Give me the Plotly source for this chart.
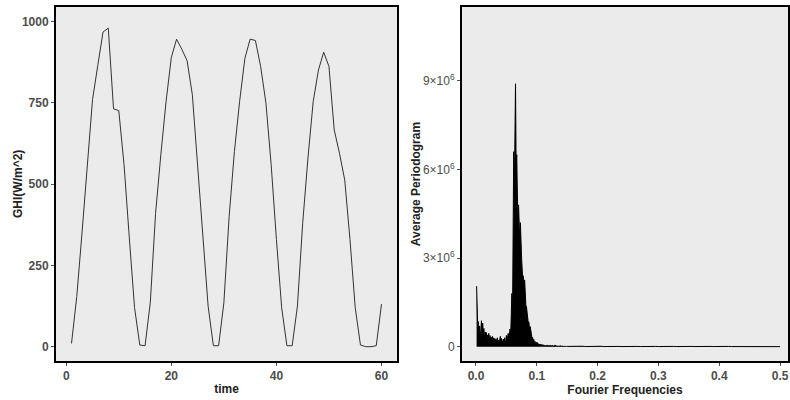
import numpy as np
import plotly.graph_objects as go

# GHI series (hourly, daylight), t = 1..60
time = list(range(1, 61))
ghi = [10, 154, 350, 570, 760, 865, 968, 980, 732, 726,
       560, 335, 120, 5, 3, 136, 410, 590, 755, 890,
       946, 915, 880, 775, 560, 335, 125, 3, 3, 135,
       400, 600, 755, 887, 946, 942, 862, 750, 560, 330,
       120, 3, 3, 125, 380, 580, 754, 851, 906, 862,
       667, 595, 513, 330, 120, 5, 0, 0, 3, 131]

# averaged periodogram, low frequency part (0.001..0.150), units of 1e4
freq_low = np.round(np.arange(1, 151) * 0.001, 3)
pgram_low = [205, 130, 60, 85, 40, 70, 30, 55, 88, 35,
             80, 45, 62, 28, 50, 35, 48, 22, 40, 30,
             45, 20, 38, 25, 32, 18, 35, 22, 30, 15,
             28, 20, 25, 12, 30, 18, 22, 10, 25, 35,
             15, 28, 20, 12, 25, 18, 30, 15, 22, 38,
             20, 30, 45, 25, 40, 60, 35, 110, 180, 80,
             390, 660, 520, 720, 890, 610, 650, 520, 440, 480,
             390, 360, 420, 300, 300, 260, 220, 240, 200, 225,
             160, 140, 135, 110, 90, 80, 84, 60, 68, 45,
             45, 28, 32, 20, 25, 14, 18, 10, 15, 8,
             14, 7, 10, 6, 9, 5, 8, 4, 7, 4,
             6, 3, 5, 3, 4, 2, 6, 3, 4, 2,
             3, 5, 2, 3, 2, 4, 2, 3, 1, 6,
             2, 3, 1, 2, 3, 1, 2, 1, 3, 1,
             2, 1, 2, 1, 2, 1, 1, 2, 1, 1]

# high frequency tail (0.155..0.500), units of 1e4
freq_high = np.round(np.arange(155, 505, 5) * 0.001, 3)
pgram_high = [1.5, 0.5, 1, 0.5, 1.5, 0.5, 1, 0.5, 1, 0.5,
              1.5, 0.5, 1, 0.5, 1, 0.5, 1, 0.5, 1, 0.5,
              1, 0.5, 1, 0.5, 1, 0.5, 1, 0.5, 1, 0.5,
              1, 0.5, 1, 0.5, 1, 0.5, 1, 0.5, 1, 0.5,
              1, 0.5, 1, 0.5, 1, 0.5, 1, 0.5, 1, 0.5,
              1, 0.5, 1, 0.5, 0.5, 0.3, 0.5, 0.3, 0.5, 0.3,
              0.3, 0.2, 0.3, 0.2, 0.2, 0.2, 0.2, 0.2, 0.2, 0.2]

freq = list(freq_low) + list(freq_high)
pgram = [v * 1e4 for v in pgram_low + pgram_high]

FONT = "Liberation Sans, Arial, sans-serif"
TICK_GREY = "#4d4d4d"
BG = "#ebebeb"

fig = go.Figure()
fig.add_trace(go.Scatter(x=time, y=ghi, mode="lines",
                         line=dict(color="#333333", width=1),
                         xaxis="x", yaxis="y", showlegend=False))
fig.add_trace(go.Scatter(x=freq, y=pgram, mode="lines",
                         line=dict(color="black", width=1),
                         fill="tozeroy", fillcolor="black",
                         xaxis="x2", yaxis="y2", showlegend=False))

axis_common = dict(showgrid=False, zeroline=False, showline=True, mirror=True,
                   linecolor="black", linewidth=2, ticks="outside", ticklen=3,
                   tickcolor="#555555", tickwidth=1, automargin=False)
bold_ticks = dict(family=FONT, size=12, color=TICK_GREY, weight="bold")
thin_ticks = dict(family=FONT, size=12, color=TICK_GREY)
title_font = dict(family=FONT, size=12, color="#222222", weight="bold")

fig.update_layout(
    width=790, height=400,
    margin=dict(t=0, r=0, b=0, l=0, autoexpand=False),
    paper_bgcolor="white",
    plot_bgcolor=BG,
    font=dict(family=FONT),
    xaxis=dict(domain=[56/790, 397/790], range=[-1.95, 62.95],
               tickvals=[0, 20, 40, 60], tickfont=bold_ticks, anchor="y",
               title=dict(text="time", font=title_font, standoff=2),
               **axis_common),
    yaxis=dict(domain=[1 - 361/400, 1 - 7/400], range=[-44, 1045],
               tickvals=[0, 250, 500, 750, 1000], tickfont=bold_ticks, anchor="x",
               **axis_common),
    xaxis2=dict(domain=[462/790, 788/790], range=[-0.023, 0.513],
                tickvals=[0, 0.1, 0.2, 0.3, 0.4, 0.5],
                ticktext=["0.0", "0.1", "0.2", "0.3", "0.4", "0.5"],
                tickfont=bold_ticks, anchor="y2",
                title=dict(text="Fourier Frequencies", font=title_font, standoff=2),
                **axis_common),
    yaxis2=dict(domain=[1 - 361/400, 1 - 7/400], range=[-0.484e6, 11.5e6],
                tickvals=[0, 3e6, 6e6, 9e6],
                ticktext=["0", "3×10<sup>6</sup>", "6×10<sup>6</sup>", "9×10<sup>6</sup>"],
                tickfont=thin_ticks, anchor="x2",
                title=dict(text="Average Periodogram", font=title_font, standoff=0),
                **axis_common),
)

# left y title sits closer to the tick labels than plotly's standoff allows
fig.add_annotation(text="GHI(W/m^2)", x=18/790, y=1 - 184/400,
                   xref="paper", yref="paper", xanchor="center", yanchor="middle",
                   showarrow=False, textangle=-90, font=title_font)

fig.write_html("out.html", config={"displayModeBar": False},
               post_script="document.body.style.margin='0px';")
